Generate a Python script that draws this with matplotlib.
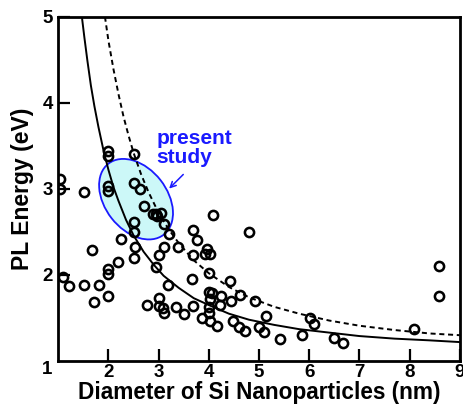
import matplotlib
matplotlib.use("Agg")
import matplotlib.pyplot as plt
import matplotlib.transforms as mtransforms
from matplotlib.patches import Ellipse

plt.rcParams['font.family'] = ['Liberation Sans', 'DejaVu Sans']
plt.rcParams['font.weight'] = 'bold'

# ---- data ----
diameter_nm = [1.04, 1.04, 1.52, 2.00, 2.00, 2.00, 2.00, 2.50, 2.50, 2.63,
               2.71, 2.88, 2.95, 3.04, 2.96, 3.10, 3.21, 2.50, 2.50, 2.26,
               2.53, 2.50, 1.68, 2.19, 2.00, 2.00, 1.09, 1.21, 1.52, 1.81,
               1.71, 2.00, 2.95, 3.01, 3.10, 3.38, 3.19, 2.77, 3.01, 3.01,
               3.08, 3.10, 3.34, 3.51, 3.69, 3.77, 3.69, 3.97, 4.03, 3.93,
               4.09, 4.80, 3.67, 4.00, 4.42, 3.69, 4.00, 4.07, 4.24, 4.02,
               4.44, 4.62, 4.92, 4.22, 4.00, 3.87, 4.00, 4.03, 4.16, 4.49,
               4.60, 4.73, 5.00, 5.10, 5.13, 5.41, 5.86, 6.01, 6.09, 6.49,
               6.67, 8.09, 8.59, 8.59]
pl_energy_ev = [3.11, 3.00, 2.96, 3.44, 3.38, 3.03, 2.97, 3.41, 3.07, 3.00,
                2.80, 2.71, 2.71, 2.72, 2.68, 2.59, 2.48, 2.62, 2.50, 2.42,
                2.33, 2.20, 2.29, 2.15, 2.07, 2.01, 1.98, 1.87, 1.88, 1.88,
                1.69, 1.75, 2.09, 2.23, 2.32, 2.32, 1.88, 1.65, 1.73, 1.64,
                1.62, 1.56, 1.63, 1.55, 2.52, 2.40, 2.23, 2.30, 2.24, 2.24,
                2.70, 2.50, 1.95, 2.02, 1.93, 1.64, 1.80, 1.79, 1.75, 1.72,
                1.70, 1.77, 1.70, 1.65, 1.63, 1.50, 1.56, 1.46, 1.41, 1.46,
                1.39, 1.35, 1.39, 1.34, 1.52, 1.26, 1.30, 1.50, 1.43, 1.27,
                1.21, 1.37, 2.10, 1.75]

solid_d = [1.47, 1.52, 1.58, 1.65, 1.72, 1.80, 1.90, 2.00, 2.10, 2.20, 2.35,
           2.50, 2.70, 2.90, 3.10, 3.40, 3.70, 4.00, 4.40, 4.80, 5.30, 5.80,
           6.40, 7.00, 7.70, 8.40, 9.00]
solid_e = [5.00, 4.76, 4.49, 4.20, 3.96, 3.72, 3.45, 3.22, 3.02, 2.86, 2.64,
           2.46, 2.27, 2.12, 1.99, 1.85, 1.73, 1.65, 1.55, 1.48, 1.42, 1.37,
           1.33, 1.29, 1.26, 1.24, 1.22]

dashed_d = [1.93, 2.00, 2.10, 2.20, 2.30, 2.40, 2.50, 2.65, 2.80, 3.00, 3.20,
            3.40, 3.70, 4.00, 4.40, 4.80, 5.30, 5.80, 6.40, 7.00, 7.70, 8.40,
            9.00]
dashed_e = [5.00, 4.72, 4.39, 4.10, 3.84, 3.62, 3.42, 3.17, 2.96, 2.72, 2.53,
            2.37, 2.17, 2.02, 1.86, 1.74, 1.63, 1.55, 1.47, 1.41, 1.36, 1.32,
            1.30]

x_ticks = [2, 3, 4, 5, 6, 7, 8, 9]
y_ticks = [2, 3, 4, 5]

# ---- figure ----
fig = plt.figure(figsize=(4.64, 4.04), dpi=100)
ax = fig.add_axes([0.1256, 0.1064, 0.8651, 0.8523])
ax.set_xlim(1, 9)
ax.set_ylim(1, 5)

# ellipse ("present study") in pixel units around a data-space centre
trans = fig.dpi_scale_trans + mtransforms.ScaledTranslation(2.55, 2.88, ax.transData)
ell = Ellipse((0, 0), width=0.90, height=0.62, angle=-52,
              facecolor='#ccf8f8', edgecolor='#1a1aff', linewidth=1.3,
              transform=trans, zorder=1)
ax.add_patch(ell)

ax.plot(solid_d, solid_e, color='black', lw=1.4, zorder=3)
ax.plot(dashed_d, dashed_e, color='black', lw=1.4, linestyle=(0, (2.6, 1.9)), zorder=3)

ax.plot(diameter_nm, pl_energy_ev, linestyle='none', marker='o', markersize=6.6,
        markerfacecolor='none', markeredgecolor='black', markeredgewidth=1.85,
        zorder=4)

ax.text(2.95, 3.25, 'present\nstudy', color='#1a1aff', fontsize=15,
        fontweight='bold', ha='left', va='bottom', linespacing=1.0, zorder=5)
ax.annotate('', xy=(3.17, 2.98), xytext=(3.53, 3.19),
            arrowprops=dict(arrowstyle='->', color='#1a1aff', lw=1.1,
                            mutation_scale=10), zorder=5)

ax.set_xticks(x_ticks)
ax.set_yticks(y_ticks)
ax.tick_params(direction='in', length=8.5, width=1.6, labelsize=13.5,
               top=False, right=False, pad=4)
ax.tick_params(axis='x', pad=2.5)
for lab in ax.get_xticklabels() + ax.get_yticklabels():
    lab.set_fontweight('bold')
ax.annotate('1', xy=(0, 0), xycoords='axes fraction', xytext=(-4, -6),
            textcoords='offset points', ha='right', va='center',
            fontsize=13.5, fontweight='bold')

for side in ['left', 'bottom', 'top', 'right']:
    ax.spines[side].set_linewidth(2.0)
    ax.spines[side].set_color('black')

ax.set_xlabel('Diameter of Si Nanoparticles (nm)', fontsize=16.3,
              fontweight='bold', labelpad=-0.5)
ax.set_ylabel('PL Energy (eV)', fontsize=16.5, fontweight='bold', labelpad=6)

fig.savefig('out.png', dpi=100)
